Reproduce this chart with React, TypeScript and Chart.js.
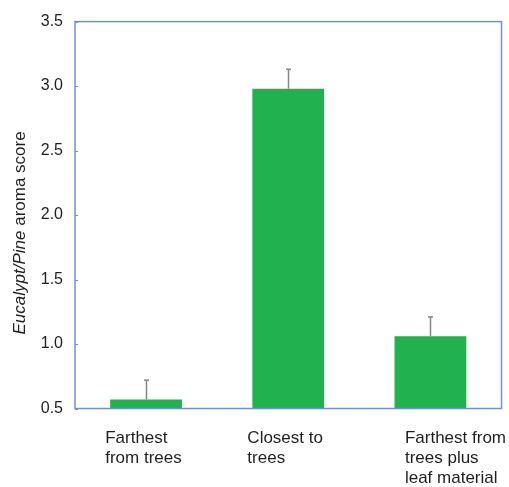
import React, { useEffect, useRef } from "react";
import { Chart, registerables } from "chart.js";

Chart.register(...registerables);

const categoryLines: string[][] = [
  ["Farthest", "from trees"],
  ["Closest to", "trees"],
  ["Farthest from", "trees plus", "leaf material"],
];
const categories = categoryLines.map((l) => l.join(" "));
const scores = [0.57, 2.98, 1.06];
const errorsUp = [0.15, 0.15, 0.15];
const yMin = 0.5;
const yMax = 3.5;
const yStep = 0.5;
const yTitleItalic = "Eucalypt/Pine";
const yTitleNormal = " aroma score";

const FONT = "'Liberation Sans', Arial, sans-serif";
const TEXT = "#1f1f1f";
const FRAME = "#7092CC";
const GREEN = "#21B14F";

const customPlugin = {
  id: "custom",
  afterDatasetsDraw(chart: any) {
    const ctx = chart.ctx;
    const area = chart.chartArea;
    const y = chart.scales.y;
    const x = chart.scales.x;
    ctx.save();
    // frame
    ctx.strokeStyle = FRAME;
    ctx.lineWidth = 1.5;
    ctx.strokeRect(area.left, area.top, area.right - area.left, area.bottom - area.top);
    // inward tick marks on y axis
    ctx.lineWidth = 1;
    y.ticks.forEach((t: any) => {
      const py = Math.round(y.getPixelForValue(t.value)) + 0.5;
      ctx.beginPath();
      ctx.moveTo(area.left, py);
      ctx.lineTo(area.left + 3, py);
      ctx.stroke();
    });
    // error bars
    const meta = chart.getDatasetMeta(0);
    ctx.strokeStyle = "#858585";
    meta.data.forEach((bar: any, i: number) => {
      const cx = Math.round(bar.x) + 0.5;
      const top = y.getPixelForValue(scores[i]);
      const errTop = y.getPixelForValue(scores[i] + errorsUp[i]);
      ctx.lineWidth = 1.5;
      ctx.beginPath();
      ctx.moveTo(cx, top);
      ctx.lineTo(cx, errTop);
      ctx.stroke();
      ctx.beginPath();
      ctx.moveTo(cx - 2.5, errTop);
      ctx.lineTo(cx + 2.5, errTop);
      ctx.stroke();
    });
    // x category labels, left aligned
    ctx.fillStyle = TEXT;
    ctx.font = `17px ${FONT}`;
    ctx.textAlign = "left";
    ctx.textBaseline = "alphabetic";
    categoryLines.forEach((lines, i) => {
      const bar = meta.data[i] as any;
      const cx = x.getPixelForValue(i);
      const half = bar.width / 2;
      const maxW = Math.max(...lines.map((l) => ctx.measureText(l).width));
      const isLast = i === categoryLines.length - 1;
      const left = isLast ? chart.width - maxW - 3 : cx - half - 5;
      lines.forEach((line, j) => {
        ctx.fillText(line, left, area.bottom + 34 + j * 20);
      });
    });
    // y title with italic part
    ctx.translate(24.5, area.bottom - 74);
    ctx.rotate(-Math.PI / 2);
    ctx.font = `italic 17px ${FONT}`;
    ctx.fillText(yTitleItalic, 0, 0);
    const w = ctx.measureText(yTitleItalic).width;
    ctx.font = `17px ${FONT}`;
    ctx.fillText(yTitleNormal, w, 0);
    ctx.restore();
  },
};

export default function App() {
  const ref = useRef<HTMLCanvasElement>(null);
  useEffect(() => {
    if (!ref.current) return;
    const chart = new Chart(ref.current, {
      type: "bar",
      data: {
        labels: categories,
        datasets: [
          {
            data: scores,
            backgroundColor: GREEN,
            borderWidth: 0,
            barPercentage: 0.505,
            categoryPercentage: 1,
          },
        ],
      },
      options: {
        animation: false,
        responsive: true,
        maintainAspectRatio: false,
        layout: { padding: { left: 0, top: 16, right: 7.5, bottom: 0 } },
        plugins: { legend: { display: false }, tooltip: { enabled: false } },
        scales: {
          x: {
            grid: { display: false, drawTicks: false },
            border: { display: false },
            ticks: { display: false },
            afterFit: (s: any) => {
              s.height = 78.5;
            },
          },
          y: {
            min: yMin,
            max: yMax,
            grid: { display: false, drawTicks: false },
            border: { display: false },
            ticks: {
              stepSize: yStep,
              padding: 12,
              color: TEXT,
              font: { family: FONT, size: 16 },
              callback: (v: any) => Number(v).toFixed(1),
            },
            afterFit: (s: any) => {
              s.width = 75;
            },
          },
        },
      },
      plugins: [customPlugin],
    });
    return () => chart.destroy();
  }, []);
  return (
    <div style={{ position: "absolute", left: 0, top: 0, width: 509, height: 487, background: "#fff" }}>
      <canvas ref={ref} />
    </div>
  );
}
